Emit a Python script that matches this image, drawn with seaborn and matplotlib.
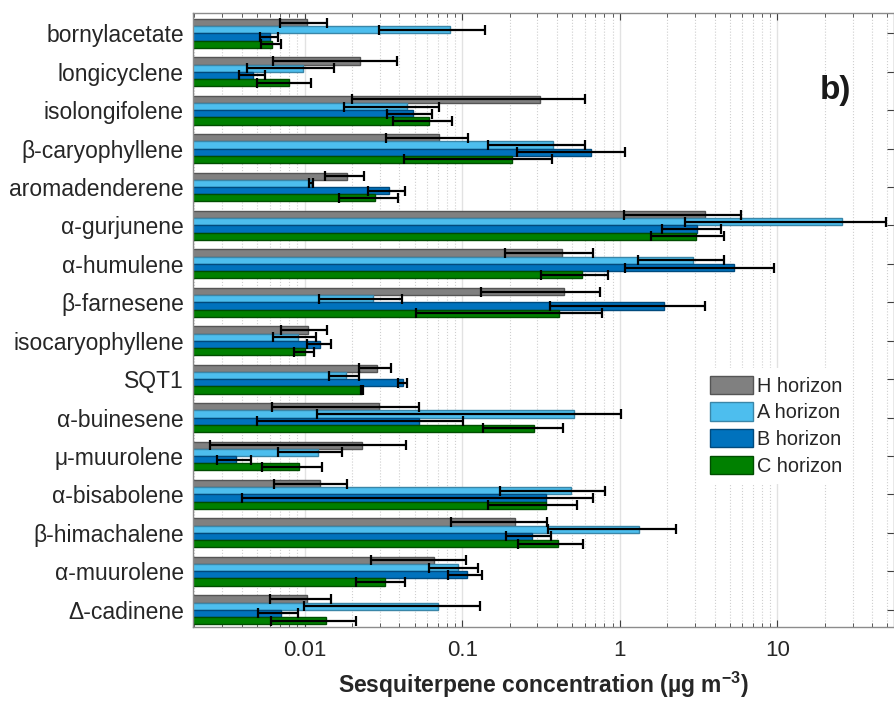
import numpy as np
import pandas as pd
import matplotlib
matplotlib.use("Agg")
import matplotlib.pyplot as plt
import seaborn as sns
from matplotlib.patches import Patch
from matplotlib.ticker import LogLocator, NullFormatter

compounds = ["bornylacetate", "longicyclene", "isolongifolene", "β-caryophyllene",
             "aromadenderene", "α-gurjunene", "α-humulene", "β-farnesene",
             "isocaryophyllene", "SQT1", "α-buinesene", "μ-muurolene",
             "α-bisabolene", "β-himachalene", "α-muurolene", "Δ-cadinene"]
horizons = ["H horizon", "A horizon", "B horizon", "C horizon"]

# mean concentrations (µg m-3) and their standard deviations, one list per horizon
h_mean = [0.0104, 0.0225, 0.31, 0.071, 0.0186, 3.46, 0.43, 0.44,
          0.0105, 0.0289, 0.0297, 0.0233, 0.0125, 0.216, 0.0661, 0.0104]
h_err = [0.0034, 0.0162, 0.29, 0.038, 0.0052, 2.4, 0.243, 0.308,
         0.0034, 0.0066, 0.0235, 0.0208, 0.0061, 0.131, 0.0397, 0.0044]
a_mean = [0.0843, 0.0098, 0.0445, 0.375, 0.0110, 25.9, 2.93, 0.0270,
          0.0091, 0.0182, 0.512, 0.0121, 0.488, 1.32, 0.0945, 0.0699]
a_err = [0.0548, 0.0055, 0.0267, 0.23, 0.0003, 23.3, 1.63, 0.0146,
         0.0028, 0.0039, 0.50, 0.0053, 0.315, 0.97, 0.0325, 0.060]
b_mean = [0.0060, 0.0047, 0.0488, 0.653, 0.0344, 3.11, 5.32, 1.91,
          0.01257, 0.0422, 0.053, 0.0037, 0.339, 0.277, 0.1076, 0.0071]
b_err = [0.0008, 0.00088, 0.0155, 0.43, 0.009, 1.26, 4.24, 1.55,
         0.0022, 0.0028, 0.048, 0.0009, 0.335, 0.088, 0.026, 0.002]
c_mean = [0.0062, 0.0080, 0.0614, 0.208, 0.0278, 3.07, 0.580, 0.411,
          0.0100, 0.0232, 0.285, 0.0092, 0.341, 0.405, 0.0322, 0.0137]
c_err = [0.0009, 0.003, 0.025, 0.165, 0.0113, 1.5, 0.264, 0.36,
         0.0014, 0.0004, 0.15, 0.0038, 0.196, 0.178, 0.0109, 0.0076]

x_ticks = [0.01, 0.1, 1, 10]
x_tick_labels = ["0.01", "0.1", "1", "10"]

colors = ["#808080", "#4DBEEE", "#0072BD", "#008000"]
edge_colors = ["#555555", "#3a86a8", "#004a7d", "#004d00"]

means = [h_mean, a_mean, b_mean, c_mean]
errs = [h_err, a_err, b_err, c_err]

df = pd.DataFrame({
    "compound": np.tile(compounds, len(horizons)),
    "horizon": np.repeat(horizons, len(compounds)),
    "value": np.concatenate(means),
    "err": np.concatenate(errs),
})

sns.set_style("white")
plt.rcParams["font.family"] = ["Liberation Sans", "DejaVu Sans"]

fig = plt.figure(figsize=(8.95, 7.01), dpi=100)
ax = fig.add_axes([193 / 895, 1 - 627 / 701, (894 - 193) / 895, (627 - 13) / 701])

sns.barplot(data=df, x="value", y="compound", hue="horizon", order=compounds,
            hue_order=horizons, palette=colors, orient="h", width=0.75,
            errorbar=None, log_scale=True, saturation=1, ax=ax, legend=False)

# per-horizon edges and error bars
bar_containers = list(ax.containers)
for k, cont in enumerate(bar_containers):
    ys = []
    for p in cont.patches:
        p.set_edgecolor(edge_colors[k])
        p.set_linewidth(1.0)
        ys.append(p.get_y() + p.get_height() / 2)
    ax.errorbar(means[k], ys, xerr=errs[k], fmt="none", ecolor="black",
                elinewidth=1.6, capsize=3.8, capthick=1.6, zorder=5)

ax.set_xscale("log")
ax.set_xlim(0.00196, 55)
ax.set_ylim(15.45, -0.53)

ax.set_xticks(x_ticks, labels=x_tick_labels)
ax.xaxis.set_minor_locator(LogLocator(base=10, subs=np.arange(2, 10), numticks=20))
ax.xaxis.set_minor_formatter(NullFormatter())

ax.set_axisbelow(True)
ax.grid(which="major", axis="x", color="#e2e2e2", linewidth=1.0, linestyle="-")
ax.grid(which="minor", axis="x", color="#cfcfcf", linewidth=0.8, linestyle=":")
ax.grid(which="major", axis="y", visible=False)

ax.tick_params(axis="x", which="both", direction="in", top=True, bottom=True,
               color="#404040")
ax.tick_params(axis="x", which="major", length=5, width=0.8, pad=9,
               labelsize=16, labelcolor="#262626")
ax.tick_params(axis="x", which="minor", length=3, width=0.6)
ax.tick_params(axis="y", which="major", direction="in", left=True, right=True,
               length=5, width=0.8, color="#404040", pad=6.5,
               labelsize=16.5, labelcolor="#262626")

for s in ax.spines.values():
    s.set_color("#8c8c8c")
    s.set_linewidth(1.0)

ax.set_ylabel("")
ax.set_xlabel("Sesquiterpene concentration (µg m$^{\\mathregular{-3}}$)", fontsize=16.5,
              fontweight="bold", color="#262626", labelpad=6.5)

ax.text(0.917, 0.873, "b)", transform=ax.transAxes, ha="center", va="center",
        fontsize=24, fontweight="bold", color="#1a1a1a")

handles = [Patch(facecolor=colors[k], edgecolor=edge_colors[k], linewidth=1.0)
           for k in range(len(horizons))]
ax.legend(handles, horizons, loc="upper left",
          bbox_to_anchor=(702 / 895, 1 - 368 / 701), bbox_transform=fig.transFigure,
          fontsize=14.3, frameon=True, facecolor="white", edgecolor="none",
          framealpha=1, fancybox=False, borderpad=0.4, borderaxespad=0,
          handlelength=2.15, handleheight=1.05, labelspacing=0.33,
          handletextpad=0.2)

fig.savefig("out.png", dpi=100)
